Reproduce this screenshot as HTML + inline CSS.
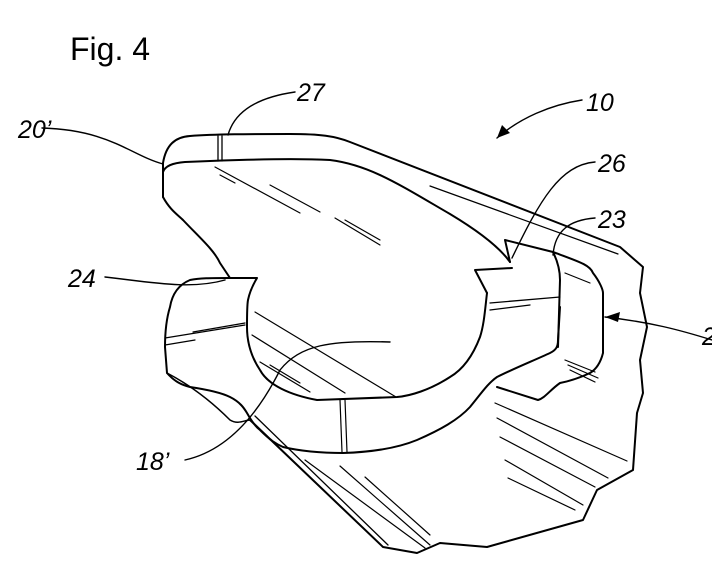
<!DOCTYPE html>
<html><head><style>
html,body{margin:0;padding:0;background:#fff;}
svg{display:block;}
text{font-family:"Liberation Sans",sans-serif;fill:#000;}
.l{font-style:italic;font-size:25px;}
</style></head><body>
<svg width="712" height="569" viewBox="0 0 712 569" xmlns="http://www.w3.org/2000/svg">
<g fill="none" stroke="#000" stroke-width="2" stroke-linejoin="round" stroke-linecap="round">
<!-- top flange outer + base plate -->
<path d="M163,197 L163,163 C166,145 175,137 190,136 C215,134 250,134 290,134 C320,134 335,136 350,142 L620,247 L643,267 L640,293 L647,327 L640,360 L643,393 L637,413 L633,470 L597,490 L583,520 L487,547 L440,543 L417,553 L383,547 L250,420"/>
<path d="M255,416 L388,545" stroke-width="1.3"/>
<path d="M430,186 L618,254" stroke-width="1.2"/>
<path d="M163,172 C165,166 172,163 185,162 C230,160 290,158 330,160 C370,165 400,185 450,214 C480,232 500,248 510,262"/>
<path d="M218,136 L218,161 M222,136 L222,161" stroke-width="1.3"/>
<!-- notch -->
<path d="M510,262 L505,240 L553,252 M512,268 L475,270 L487,293"/>
<!-- cup -->
<path d="M487,293 C485,310 484,325 480,337 C472,358 462,370 450,377 C430,390 410,396 397,397 L317,400 C290,395 268,385 260,370 C250,355 247,340 247,327 C247,315 247,305 248,300 C250,290 254,283 257,278 L230,278"/>
<path d="M163,197 C170,210 178,215 183,220 C200,238 214,250 220,263 L230,278"/>
<!-- left lobe / base ring -->
<path d="M230,278 C210,278 200,278 190,280 C178,285 172,295 170,307 C166,320 165,335 165,347 L167,373 C175,382 182,385 190,387 C210,390 222,393 230,397 C240,402 244,408 247,413 C252,422 256,427 260,430 C270,440 276,444 283,447 C300,451 320,453 343,453 C375,452 400,447 417,440 C440,430 458,420 470,407 C480,395 488,383 497,377 C515,368 535,360 550,353 C556,350 558,347 558,340 L560,307"/>
<path d="M167,373 C190,385 210,400 230,420 C238,425 245,420 250,420" stroke-width="1.5"/>
<!-- right block -->
<path d="M553,252 C580,262 590,265 593,273 C600,282 603,290 603,293 L603,353 C600,365 595,370 590,373 C575,380 565,382 560,383 C550,390 545,398 538,400 L497,387"/>
<path d="M553,252 C558,262 560,270 560,280 L558,347"/>
<path d="M490,303 L560,297 M490,310 L530,305" stroke-width="1.3"/>
<path d="M165,338 L245,325 M165,345 L195,340 M193,332 L245,323" stroke-width="1.2"/>
<path d="M340,400 L342,452 M345,400 L347,452" stroke-width="1.2"/>
<!-- hatching -->
<g stroke-width="1.2">
<path d="M215,167 L300,213 M220,175 L235,183 M270,185 L320,212 M335,218 L380,245 M345,220 L380,240"/>
<path d="M255,312 L396,397 M252,335 L345,393 M260,362 L310,392 M270,365 L300,383"/>
<path d="M495,403 L627,461 M497,418 L608,478 M500,437 L595,487 M505,460 L583,505 M508,478 L575,510"/>
<path d="M305,460 L425,548 M340,466 L430,545 M365,477 L430,535"/>
<path d="M565,360 L595,372 M568,365 L598,378 M570,370 L595,382 M565,273 L590,283"/>
</g>
<!-- leaders -->
<g stroke-width="1.4">
<path d="M295,92 C260,97 235,110 228,135"/>
<path d="M42,128 C110,130 130,155 163,164"/>
<path d="M582,100 C550,105 520,118 497,138"/>
<path d="M595,162 C560,165 540,200 512,258"/>
<path d="M595,218 C570,220 555,230 553,255"/>
<path d="M105,277 C150,282 190,290 225,280"/>
<path d="M712,340 C680,330 650,322 605,317"/>
<path d="M185,460 C230,450 260,410 280,370 C300,345 330,340 390,342"/>
</g>
</g>
<path d="M497,138 L502,125 L510,133 Z" fill="#000"/>
<path d="M605,317 L620,312 L618,322 Z" fill="#000"/>
<text x="70" y="60" style="font-size:32px;">Fig. 4</text>
<text class="l" x="297" y="101">27</text>
<text class="l" x="586" y="111">10</text>
<text class="l" x="18" y="138">20’</text>
<text class="l" x="598" y="172">26</text>
<text class="l" x="598" y="228">23</text>
<text class="l" x="68" y="287">24</text>
<text class="l" x="702" y="345">2</text>
<text class="l" x="136" y="470">18’</text>
</svg>
</body></html>
